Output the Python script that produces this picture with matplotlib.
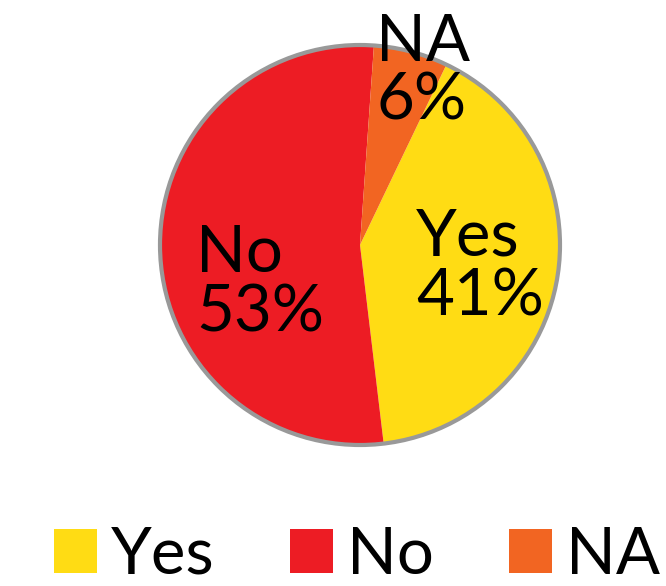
import matplotlib
matplotlib.use('Agg')
import matplotlib.pyplot as plt
from matplotlib.patches import Circle

# survey answers
labels = ['Yes', 'No', 'NA']
shares = [41, 53, 6]
colors = ['#FFDC14', '#ED1C24', '#F26522']

# left edge / vertical centre of each slice label (data coords, radius 1)
label_xy = [(0.28, -0.11), (-0.82, -0.19), (0.08, 0.865)]

plt.rcParams['font.family'] = ['Lato', 'DejaVu Sans']
W, H = 666, 586
fig = plt.figure(figsize=(W / 100, H / 100), dpi=100)

cx, cy, r = 360, 245, 200
half = 1.05 * r
ax = fig.add_axes([(cx - half) / W, (H - cy - half) / H, 2 * half / W, 2 * half / H])

start = 90 - 360 * shares[2] / 100 - 4
wedges, _ = ax.pie(shares, colors=colors, startangle=start, counterclock=False,
                   radius=1, wedgeprops=dict(linewidth=0))
ax.add_patch(Circle((0, 0), 1, fill=False, edgecolor='#999999', linewidth=3))
ax.set_xlim(-1.05, 1.05)
ax.set_ylim(-1.05, 1.05)
ax.set_aspect('equal')
ax.axis('off')

for lab, val, (x, y) in zip(labels, shares, label_xy):
    ax.text(x, y, '{}\n{}%'.format(lab, val), ha='left', va='center',
            multialignment='left', fontsize=47, linespacing=1.0, clip_on=False)

fig.legend(wedges, labels, loc='center', bbox_to_anchor=(357 / W, 1 - 555 / H),
           ncol=3, frameon=False, handlelength=0.66, handleheight=0.66,
           handletextpad=0.22, columnspacing=1.15, borderpad=0,
           prop=dict(size=47))

fig.savefig('out.png', dpi=100)
